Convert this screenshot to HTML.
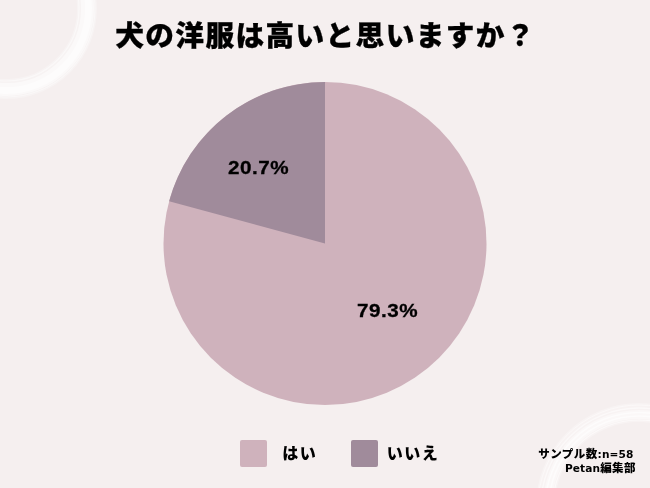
<!DOCTYPE html>
<html lang="ja">
<head>
<meta charset="utf-8">
<title>犬の洋服は高いと思いますか？</title>
<style>
html,body{margin:0;padding:0;}
body{width:650px;height:488px;overflow:hidden;background:#f5efef;position:relative;
  font-family:"Liberation Sans","Noto Sans CJK JP",sans-serif;color:#000;}
#bg{position:absolute;left:0;top:0;width:650px;height:488px;}
.title{position:absolute;left:115.3px;top:13.6px;font-size:28.7px;font-weight:900;
  line-height:44px;white-space:nowrap;letter-spacing:1.35px;-webkit-text-stroke:0.3px #000;}
.pct{position:absolute;font-weight:700;font-size:18.8px;letter-spacing:0.45px;line-height:20px;white-space:nowrap;transform:scaleX(1.10);transform-origin:0 0;-webkit-text-stroke:0.3px #000;}
.leg{position:absolute;font-weight:900;font-size:16px;line-height:20px;white-space:nowrap;letter-spacing:1.5px;}
.sw{position:absolute;width:27px;height:27px;border-radius:2px;top:439.5px;}
.note{position:absolute;text-align:right;font-weight:900;font-size:11.5px;line-height:14px;white-space:nowrap;letter-spacing:0.45px;font-family:"DejaVu Sans","Liberation Sans","Noto Sans CJK JP",sans-serif;}
.note b{font-weight:700;font-size:10.6px;letter-spacing:0.1px;}
</style>
</head>
<body>
<svg id="bg" viewBox="0 0 650 488">
  <g fill="none" stroke="#ffffff">
    <circle cx="6.5" cy="8.5" r="80.5" stroke-width="20" stroke-opacity="0.25"/>
    <circle cx="6.5" cy="8.5" r="81" stroke-width="13" stroke-opacity="0.5"/>
    <circle cx="6.5" cy="8.5" r="82" stroke-width="7" stroke-opacity="0.45"/>
    <circle cx="6.5" cy="8.5" r="72.5" stroke-width="1.2" stroke-opacity="0.45"/>
    <circle cx="6.5" cy="8.5" r="88.5" stroke-width="1.2" stroke-opacity="0.4"/>
    <circle cx="639" cy="506" r="93.5" stroke-width="19" stroke-opacity="0.28"/>
    <circle cx="639" cy="506" r="91.5" stroke-width="9" stroke-opacity="0.4"/>
    <circle cx="639" cy="506" r="86" stroke-width="1.2" stroke-opacity="0.55"/>
    <circle cx="639" cy="506" r="90" stroke-width="1.6" stroke-opacity="0.55"/>
    <circle cx="639" cy="506" r="93.5" stroke-width="1.6" stroke-opacity="0.55"/>
    <circle cx="639" cy="506" r="98" stroke-width="1.4" stroke-opacity="0.5"/>
    <circle cx="639" cy="506" r="101" stroke-width="1" stroke-opacity="0.45"/>
  </g>
  <circle cx="325" cy="243.5" r="161.5" fill="#cfb2bc"/>
  <path d="M325 243.5 L325 82 A161.5 161.5 0 0 0 169.1 201.3 Z" fill="#a08b9b"/>
</svg>
<div class="title">犬の洋服は高いと思いますか？</div>
<div class="pct" style="left:227.5px;top:158.2px;">20.7%</div>
<div class="pct" style="left:356.5px;top:301.3px;">79.3%</div>
<div class="sw" style="left:240.2px;background:#cfb2bc;"></div>
<div class="leg" style="left:282.2px;top:443.8px;">はい</div>
<div class="sw" style="left:350.8px;background:#a08b9b;"></div>
<div class="leg" style="left:386.8px;top:443.8px;">いいえ</div>
<div class="note" style="top:446.5px;right:16.5px;">サンプル数<b>:n=58</b></div>
<div class="note" style="top:460.5px;right:14px;"><b>Petan</b>編集部</div>
</body>
</html>
